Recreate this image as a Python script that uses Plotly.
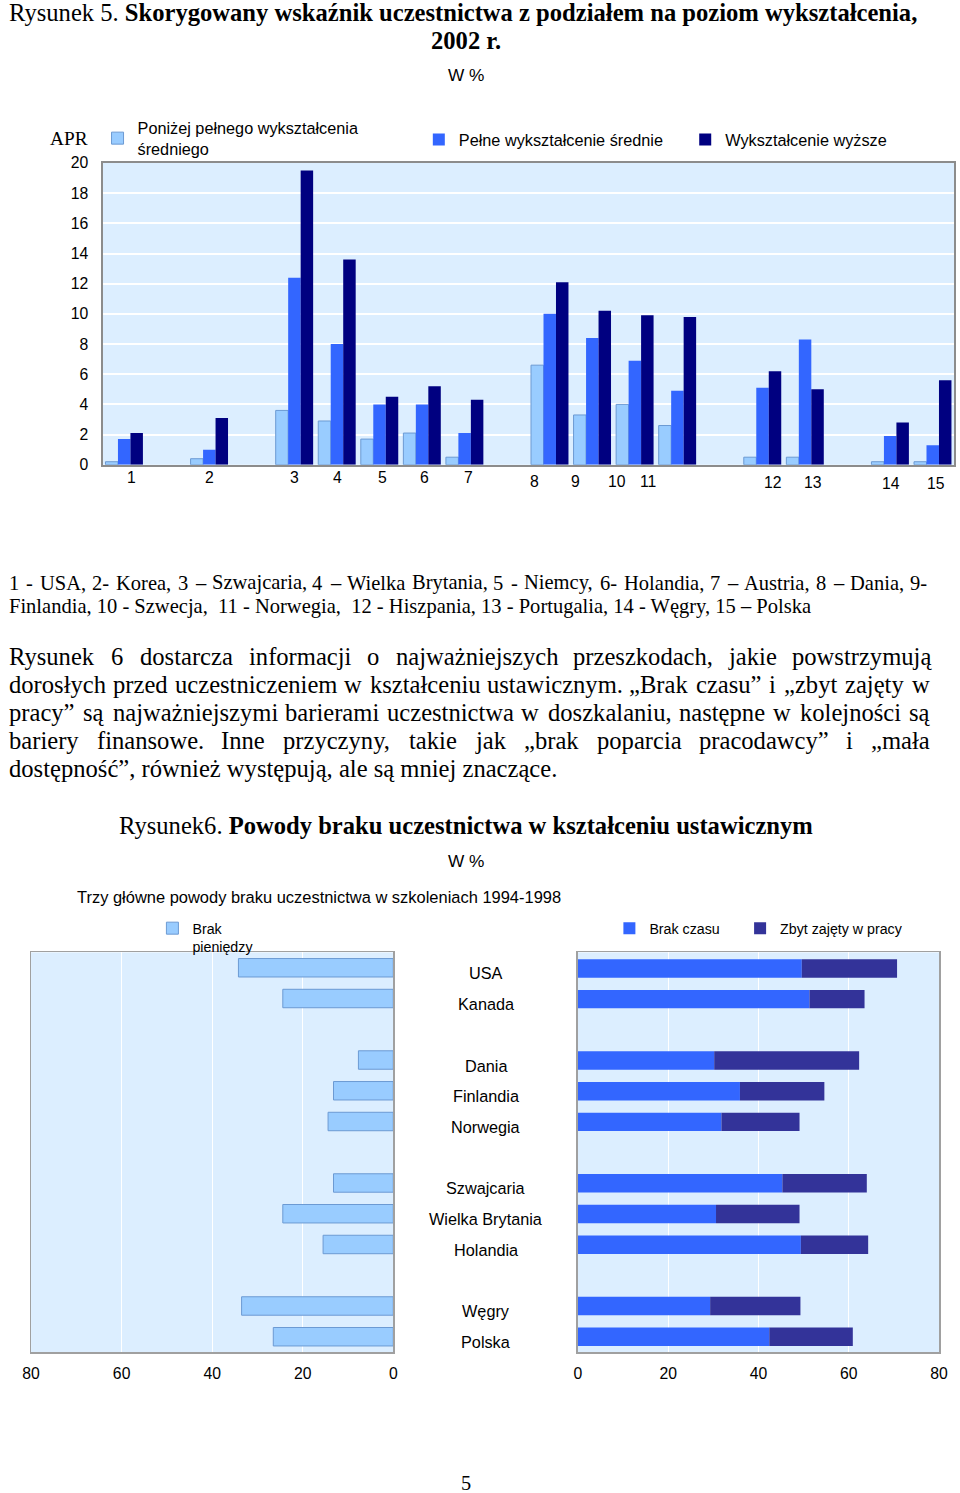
import plotly.graph_objects as go

# ---------------- data: Rysunek 5 ----------------
top_countries = [str(i) for i in range(1, 16)]
below_upper_secondary = [0.2, 0.4, 3.6, 2.9, 1.7, 2.1, 0.5, 6.6, 3.3, 4.0, 2.6, 0.5, 0.5, 0.2, 0.2]
upper_secondary = [1.7, 1.0, 12.4, 8.0, 4.0, 4.0, 2.1, 10.0, 8.4, 6.9, 4.9, 5.1, 8.3, 1.9, 1.3]
tertiary = [2.1, 3.1, 19.5, 13.6, 4.5, 5.2, 4.3, 12.1, 10.2, 9.9, 9.8, 6.2, 5.0, 2.8, 5.6]
top_slots = ["1", "g1", "2", "g2", "3", "4", "5", "6", "7", "g3", "8", "9", "10", "11",
             "g4", "12", "13", "g5", "14", "15"]
top_series_names = ["Poniżej pełnego wykształcenia<br>średniego",
                    "Pełne wykształcenie średnie", "Wykształcenie wyższe"]
top_y_ticks = list(range(0, 21, 2))

# ---------------- data: Rysunek 6 ----------------
reason_countries = ["USA", "Kanada", "Dania", "Finlandia", "Norwegia", "Szwajcaria",
                    "Wielka Brytania", "Holandia", "Węgry", "Polska"]
reason_rows = ["USA", "Kanada", "g1", "Dania", "Finlandia", "Norwegia", "g2",
               "Szwajcaria", "Wielka Brytania", "Holandia", "g3", "Węgry", "Polska"]
no_money = [34.2, 24.4, 7.7, 13.2, 14.4, 13.2, 24.4, 15.5, 33.5, 26.5]
no_time = [49.6, 51.3, 30.2, 35.9, 31.8, 45.3, 30.6, 49.4, 29.3, 42.4]
too_busy = [21.1, 12.2, 32.1, 18.7, 17.3, 18.7, 18.5, 14.9, 20.0, 18.5]
bottom_x_ticks = [0, 20, 40, 60, 80]

# ---------------- page text ----------------
caption_lines = [
    "1 - USA, 2- Korea,  3 – Szwajcaria, 4 – Wielka Brytania, 5 - Niemcy, 6- Holandia, 7 – Austria, 8 – Dania, 9-",
    "Finlandia, 10 - Szwecja,  11 - Norwegia,  12 - Hiszpania, 13 - Portugalia, 14 - Węgry, 15 – Polska",
]
para_lines = [
    "Rysunek 6 dostarcza informacji o najważniejszych przeszkodach, jakie powstrzymują",
    "dorosłych przed uczestniczeniem w kształceniu ustawicznym. „Brak czasu” i „zbyt zajęty w",
    "pracy” są najważniejszymi barierami uczestnictwa w doszkalaniu, następne w kolejności są",
    "bariery finansowe. Inne przyczyny, takie jak „brak poparcia pracodawcy” i „mała",
    "dostępność”, również występują, ale są mniej znaczące.",
]

# Page geometry: the page keeps an 8 px body margin and is captured over a
# 976 x 1509 area that is shown at 960 x 1493, so target pixels are mapped here.
OFF = 8
SX, SY = 976 / 960, 1509 / 1493
W, H = 976 - OFF, 1509 - OFF
FS = SX  # font scale
SERIF = "Liberation Serif, Times New Roman, serif"
SANS = "Liberation Sans, Arial, sans-serif"


def px(x):
    return (x * SX - OFF) / W


def py(y):
    return 1 - (y * SY - OFF) / H


# Times New Roman advance widths (1/1000 em) – Liberation Serif is metric compatible
TIMES = {" ": 250, ",": 250, ".": 250, "-": 333, "–": 500, "„": 444, "”": 444, "“": 444, ":": 278,
         "A": 722, "B": 667, "C": 667, "D": 722, "E": 611, "F": 556, "G": 722, "H": 722, "I": 333,
         "J": 389, "K": 722, "L": 611, "M": 889, "N": 722, "O": 722, "P": 556, "Q": 722, "R": 667,
         "S": 556, "T": 611, "U": 722, "V": 722, "W": 944, "X": 722, "Y": 722, "Z": 611,
         "a": 444, "b": 500, "c": 444, "d": 500, "e": 444, "f": 333, "g": 500, "h": 500, "i": 278,
         "j": 278, "k": 500, "l": 278, "m": 778, "n": 500, "o": 500, "p": 500, "q": 500, "r": 333,
         "s": 389, "t": 278, "u": 500, "v": 500, "w": 722, "x": 500, "y": 500, "z": 444,
         "ą": 444, "ć": 444, "ę": 444, "ł": 278, "ń": 500, "ó": 500, "ś": 389, "ź": 444, "ż": 444}
for d in "0123456789":
    TIMES[d] = 500


def text_w(s, size):
    """width in target pixels of s at target font size"""
    return sum(TIMES.get(c, 500) for c in s) / 1000.0 * size


annotations = []


def add_text(text, x, y, size, family=SERIF, xanchor="left", color="black"):
    annotations.append(dict(text=text, x=px(x), y=py(y), xref="paper", yref="paper",
                            xanchor=xanchor, yanchor="middle", showarrow=False,
                            borderpad=0, borderwidth=0,
                            font=dict(family=family, size=size * FS, color=color)))


def add_line(line, x0, x1, y, size, justify):
    if not justify:
        add_text(line, x0, y, size)
        return
    words = line.split()
    widths = [text_w(w, size) for w in words]
    gap = (x1 - x0 - sum(widths)) / (len(words) - 1)
    x = x0
    for w, wd in zip(words, widths):
        add_text(w, x, y, size)
        x += wd + gap


BODY = 24.2
CAP = 20.2
LEFT = 8.0
# titles
add_text("Rysunek 5. <b>Skorygowany wskaźnik uczestnictwa z podziałem na poziom wykształcenia,</b>",
         463, 12, BODY, xanchor="center")
add_text("<b>2002 r.</b>", 466, 40, BODY, xanchor="center")
add_text("W %", 466, 75, 17, family=SANS, xanchor="center")
add_text("APR", 68, 139, 19, xanchor="center")

# caption under figure 5
for i, (ln, yy) in enumerate(zip(caption_lines, [583, 607])):
    add_line(ln, LEFT, 928, yy, CAP, justify=(i < len(caption_lines) - 1))
# paragraph
for i, (ln, yy) in enumerate(zip(para_lines, [657, 685, 713, 741, 769])):
    add_line(ln, LEFT, 930, yy, BODY, justify=(i < len(para_lines) - 1))

add_text("Rysunek6. <b>Powody braku uczestnictwa w kształceniu ustawicznym</b>", 465.5, 826, BODY,
         xanchor="center")
add_text("W %", 466, 862, 17, family=SANS, xanchor="center")
add_text("Trzy główne powody braku uczestnictwa w szkoleniach 1994-1998", 76, 898, 16.2, family=SANS)
add_text("5", 466, 1484, 20, xanchor="center")

# x labels of figure 5 (hand placed in the original); x given as category index
label_xshift = [7, 0, 0, 1, 3, 2, 4, -15, -17, -18, -29, 10, 8, 1, 3]
label_ypix = [478] * 7 + [482] * 4 + [483] * 2 + [484] * 2
for c, dx, yy in zip(top_countries, label_xshift, label_ypix):
    annotations.append(dict(text=c, x=top_slots.index(c), xref="x", y=py(yy), yref="paper",
                            xshift=dx * SX, showarrow=False, xanchor="center", yanchor="middle",
                            font=dict(family=SANS, size=15.5 * FS, color="black")))

# country names between the two bar charts
for c in reason_countries:
    annotations.append(dict(text=c, x=px(486), xref="paper", y=reason_rows.index(c), yref="y3",
                            yshift=-5 * SY, showarrow=False, xanchor="center", yanchor="middle",
                            font=dict(family=SANS, size=16 * FS, color="black")))

LIGHT, MID, DARK, BUSY = "#99CCFF", "#3366FF", "#000080", "#333399"
EDGE = "#6C9AD3"

fig = go.Figure()
fig.add_trace(go.Bar(x=top_countries, y=below_upper_secondary, name=top_series_names[0],
                     marker=dict(color=LIGHT, line=dict(color=EDGE, width=1)),
                     xaxis="x", yaxis="y", legend="legend"))
fig.add_trace(go.Bar(x=top_countries, y=upper_secondary, name=top_series_names[1],
                     marker=dict(color=MID, line=dict(width=0)),
                     xaxis="x", yaxis="y", legend="legend2"))
fig.add_trace(go.Bar(x=top_countries, y=tertiary, name=top_series_names[2],
                     marker=dict(color=DARK, line=dict(width=0)),
                     xaxis="x", yaxis="y", legend="legend3"))

fig.add_trace(go.Bar(x=no_money, y=reason_countries, orientation="h", name="Brak<br>pieniędzy",
                     width=0.6, marker=dict(color=LIGHT, line=dict(color=EDGE, width=1)),
                     xaxis="x2", yaxis="y2", legend="legend4"))
fig.add_trace(go.Bar(x=no_time, y=reason_countries, orientation="h", name="Brak czasu",
                     width=0.6, offsetgroup="r", marker=dict(color=MID, line=dict(width=0)),
                     xaxis="x3", yaxis="y3", legend="legend5"))
fig.add_trace(go.Bar(x=too_busy, y=reason_countries, base=no_time, orientation="h",
                     name="Zbyt zajęty w pracy", width=0.6, offsetgroup="r",
                     marker=dict(color=BUSY, line=dict(width=0)),
                     xaxis="x3", yaxis="y3", legend="legend6"))

AXLINE = "#8c8c8c"
tickfont = dict(family=SANS, size=15.5 * FS, color="black")


def legend_at(text_x, y_mid, size, valign="middle"):
    # plotly puts the item text ~42 px right of the legend's left edge
    return dict(x=(text_x * SX - OFF - 42 + 5) / W, y=py(y_mid), xref="paper", yref="paper",
                xanchor="left", yanchor="middle", orientation="v", bgcolor="rgba(0,0,0,0)",
                borderwidth=0, valign=valign,
                font=dict(family=SANS, size=size * FS, color="black"),
                itemclick=False, itemdoubleclick=False)


fig.update_layout(
    width=W, height=H, autosize=False,
    margin=dict(l=0, r=0, t=0, b=0, pad=0),
    paper_bgcolor="white", plot_bgcolor="#DCEEFF",
    font=dict(family=SANS, color="black"),
    barmode="group", bargap=0.12, bargroupgap=0,
    showlegend=True,
    xaxis=dict(domain=[px(102), min(1.0, px(955))], anchor="y", type="category",
               categoryorder="array", categoryarray=top_slots, showticklabels=False, ticks="",
               showgrid=False, showline=True, linecolor=AXLINE, linewidth=2, mirror=True,
               zeroline=False, fixedrange=True),
    yaxis=dict(domain=[py(465), py(163)], anchor="x", range=[0, 20], tickvals=top_y_ticks,
               showgrid=True, gridcolor="white", gridwidth=2, showline=True, linecolor=AXLINE,
               linewidth=1.5, mirror=True, zeroline=False, ticks="", ticklabelstandoff=10,
               tickfont=tickfont, fixedrange=True),
    xaxis2=dict(domain=[px(30), px(393)], anchor="y2", range=[80, 0], tickvals=bottom_x_ticks,
                showgrid=True, gridcolor="white", gridwidth=1, showline=True, linecolor="#a0a0a0",
                linewidth=1.5, mirror=True, zeroline=False, ticks="", ticklabelstandoff=6,
                tickfont=tickfont, fixedrange=True),
    yaxis2=dict(domain=[py(1353), py(953)], anchor="x2", type="category", categoryorder="array",
                categoryarray=reason_rows, autorange="reversed", showticklabels=False, ticks="",
                showgrid=False, showline=True, linecolor="#a0a0a0", linewidth=1.5, mirror=True,
                zeroline=False, fixedrange=True),
    xaxis3=dict(domain=[px(578), px(940)], anchor="y3", range=[0, 80], tickvals=bottom_x_ticks,
                showgrid=True, gridcolor="white", gridwidth=1, showline=True, linecolor="#a0a0a0",
                linewidth=1.5, mirror=True, zeroline=False, ticks="", ticklabelstandoff=6,
                tickfont=tickfont, fixedrange=True),
    yaxis3=dict(domain=[py(1353), py(953)], anchor="x3", type="category", categoryorder="array",
                categoryarray=reason_rows, autorange="reversed", showticklabels=False, ticks="",
                showgrid=False, showline=True, linecolor="#a0a0a0", linewidth=1.5, mirror=True,
                zeroline=False, fixedrange=True),
    legend=legend_at(133, 138.5, 16),
    legend2=legend_at(455, 140, 16),
    legend3=legend_at(722, 140, 16),
    legend4=legend_at(188, 938.5, 14, valign="top"),
    legend5=legend_at(646, 929, 14),
    legend6=legend_at(777, 929, 14),
    annotations=annotations,
)

fig.write_html("out.html", config={"displayModeBar": False, "staticPlot": True})
